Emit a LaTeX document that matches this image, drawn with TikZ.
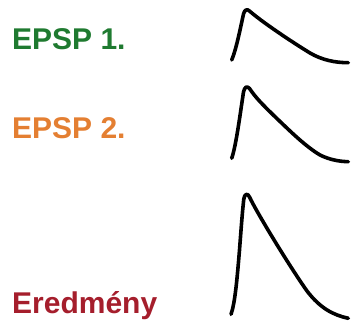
\documentclass[tikz,border=0pt]{standalone}
\usepackage{fontspec}
\setmainfont{Liberation Sans}
\definecolor{epspgreen}{HTML}{1F7A30}
\definecolor{epsporange}{HTML}{E47F32}
\definecolor{sumred}{HTML}{A51E2C}
\tikzset{
  lbl/.style={anchor=base west, inner sep=0pt, font=\fontsize{30}{30}\selectfont\bfseries},
  trace/.style={line width=3.6pt, line cap=round, line join=round, black}
}
\begin{document}
\begin{tikzpicture}[x=1pt, y=-1pt]
  \useasboundingbox (0,0) rectangle (352,323);
  % labels
  \node[lbl, text=epspgreen] (e1) at (12,49.7) {EPSP 1.};
  \node[lbl, text=epsporange] (e2) at (12,138.7) {EPSP 2.};
  \node[lbl, text=sumred] (res) at (12,313.3) {Eredmény};
  % first EPSP
  \draw[trace] (231.7,60) .. controls (236,50) and (240,30) .. (243.5,14)
    .. controls (244.5,10) and (247,8.5) .. (249.5,11)
    .. controls (262,22) and (292,42) .. (310,53)
    .. controls (322,60) and (335,62.7) .. (348.3,62.7);
  % second EPSP
  \draw[trace] (231.7,158.3) .. controls (236,146) and (240,115) .. (243.5,92)
    .. controls (244.5,87) and (247,85.5) .. (249.5,88.5)
    .. controls (256,98) and (262,104) .. (275,116.7)
    .. controls (290,131) and (305,146) .. (320,155)
    .. controls (330,160) and (340,161.5) .. (348.3,161.7);
  % summed response
  \draw[trace] (231,314.3) .. controls (235,303) and (237,280) .. (239.5,250)
    .. controls (241,230) and (242.5,210) .. (243.8,199)
    .. controls (244.5,194) and (247.5,192.5) .. (249.5,197)
    .. controls (257,213) and (290,267) .. (307,291)
    .. controls (320,308) and (333,315) .. (348.3,318.3);
\end{tikzpicture}
\end{document}
